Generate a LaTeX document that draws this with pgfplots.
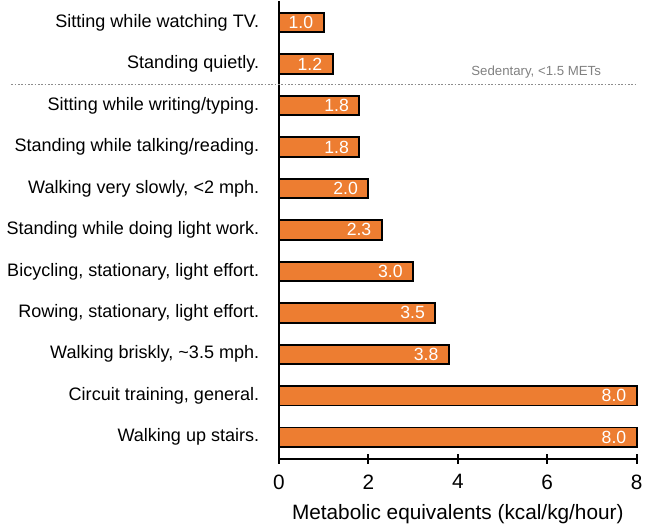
\documentclass[border=0pt]{standalone}
\usepackage{fontspec}
\setmainfont{Liberation Sans}
\usepackage{pgfplots}
\pgfplotsset{compat=1.18}
\definecolor{barorange}{HTML}{ED7D31}
\begin{document}
\begin{tikzpicture}
\begin{axis}[
  scale only axis,
  width=182.5pt, height=233.5pt,
  xbar, bar width=0.47,
  xmin=0, xmax=8, ymin=-0.52, ymax=10.52,
  axis x line*=bottom, axis y line*=left,
  axis line style={line width=1pt, black},
  xtick={0,2,4,6,8},
  tick align=center, major tick length=5pt,
  x tick style={line width=1pt, black},
  ytick={0,...,10},
  y tick style={draw=none},
  yticklabels={{Walking up stairs.},{Circuit training, general.},{Walking briskly, \textasciitilde3.5 mph.},{Rowing, stationary, light effort.},{Bicycling, stationary, light effort.},{Standing while doing light work.},{Walking very slowly, <2 mph.},{Standing while talking/reading.},{Sitting while writing/typing.},{Standing quietly.},{Sitting while watching TV.}},
  yticklabel style={font=\fontsize{9.2}{10}\selectfont, xshift=-4pt},
  xticklabel style={font=\fontsize{10.6}{12}\selectfont, yshift=-2pt},
  /pgf/number format/assume math mode=true,
  xlabel={Metabolic equivalents (kcal/kg/hour)},
  xlabel style={font=\fontsize{10.6}{12}\selectfont, yshift=-1pt},
  point meta=x,
  nodes near coords={\pgfmathprintnumber[fixed,fixed zerofill,precision=1]{\pgfplotspointmeta}},
  every node near coord/.append style={anchor=east, text=white, font=\fontsize{9}{10}\selectfont, xshift=-1.5pt},
  clip=false,
]
\addplot[fill=barorange, draw=black, line width=1pt] coordinates {
 (8.0,0) (8.0,1) (3.8,2) (3.5,3) (3.0,4) (2.3,5) (2.0,6) (1.8,7) (1.8,8) (1.2,9) (1.0,10)
};
\draw[gray!90, line width=0.75pt, dash pattern=on 0.8pt off 0.9pt] (axis cs:-5.98,8.5) -- (axis cs:8,8.5);
\node[anchor=east, text=gray, font=\fontsize{6.75}{8}\selectfont, inner sep=0pt] at (axis cs:7.21,8.8) {Sedentary, <1.5 METs};
\end{axis}
\end{tikzpicture}
\end{document}
